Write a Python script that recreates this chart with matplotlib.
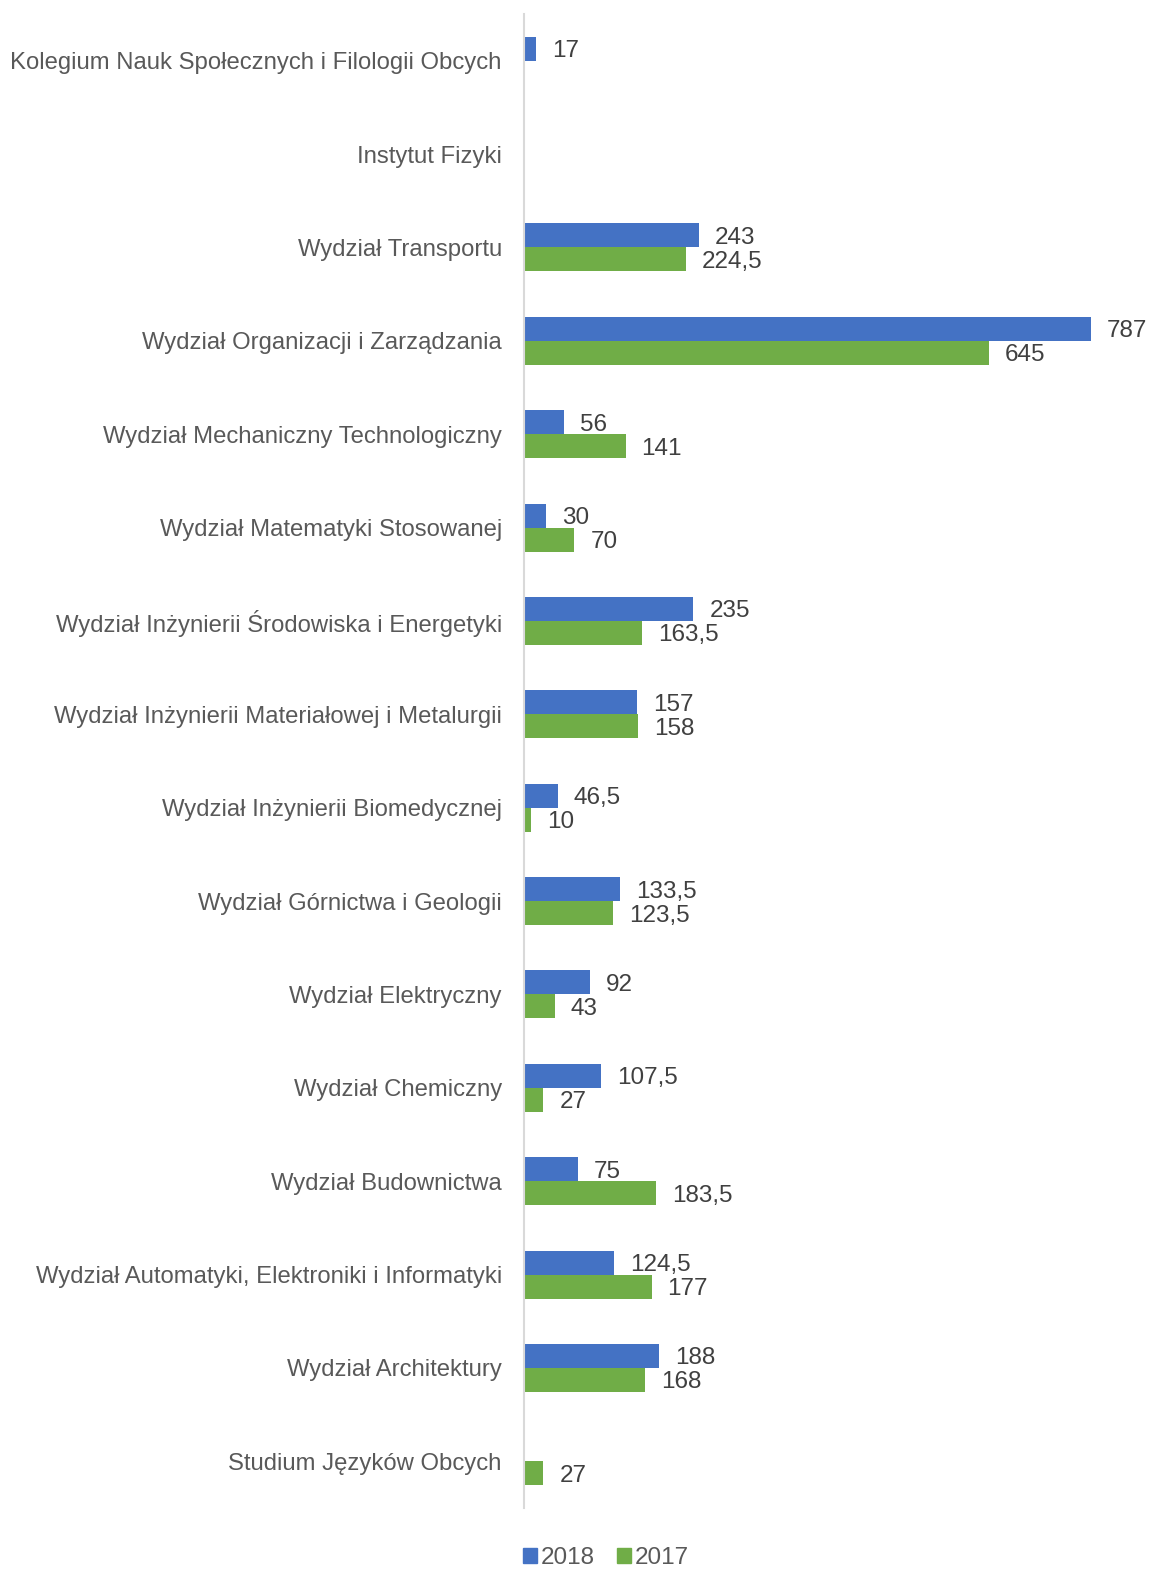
import matplotlib.pyplot as plt
import numpy as np

# Dane z wykresu (od góry do dołu)
kategorie = [
    "Kolegium Nauk Społecznych i Filologii Obcych",
    "Instytut Fizyki",
    "Wydział Transportu",
    "Wydział Organizacji i Zarządzania",
    "Wydział Mechaniczny Technologiczny",
    "Wydział Matematyki Stosowanej",
    "Wydział Inżynierii Środowiska i Energetyki",
    "Wydział Inżynierii Materiałowej i Metalurgii",
    "Wydział Inżynierii Biomedycznej",
    "Wydział Górnictwa i Geologii",
    "Wydział Elektryczny",
    "Wydział Chemiczny",
    "Wydział Budownictwa",
    "Wydział Automatyki, Elektroniki i Informatyki",
    "Wydział Architektury",
    "Studium Języków Obcych",
]
wartosci_2018 = [17, None, 243, 787, 56, 30, 235, 157, 46.5, 133.5, 92, 107.5, 75, 124.5, 188, None]
wartosci_2017 = [None, None, 224.5, 645, 141, 70, 163.5, 158, 10, 123.5, 43, 27, 183.5, 177, 168, 27]
serie = ["2018", "2017"]
kolory = ["#4472C4", "#70AD47"]

plt.rcParams['font.family'] = ['Liberation Sans', 'DejaVu Sans']

fig = plt.figure(figsize=(11.51, 15.69), dpi=100)
W, H = 1151, 1569
ax = fig.add_axes([524 / W, (H - 1508) / H, 616 / W, 1494 / H])

y = np.arange(len(kategorie))
h = 0.257


def fmt(v):
    s = f"{v:g}"
    return s.replace(".", ",")


for vals, off, kolor in [(wartosci_2018, -h / 2, kolory[0]), (wartosci_2017, h / 2, kolory[1])]:
    for i, v in enumerate(vals):
        if v is None:
            continue
        ax.barh(y[i] + off, v, height=h, color=kolor)
        ax.annotate(fmt(v), (v, y[i] + off), xytext=(16, 0), textcoords="offset pixels",
                    ha="left", va="center_baseline", fontsize=17.5, color="#404040")

ax.set_ylim(len(kategorie) - 0.5, -0.5)
ax.set_xlim(0, 616 / 0.7205)
ax.set_yticks(y)
ax.set_yticklabels(kategorie, fontsize=17.2, color="#595959")
ax.tick_params(axis="y", length=0, pad=16)
ax.set_xticks([])
for s in ["top", "right", "bottom"]:
    ax.spines[s].set_visible(False)
ax.spines["left"].set_color("#D9D9D9")
ax.spines["left"].set_linewidth(1.5)

uchwyty = [plt.Rectangle((0, 0), 1, 1, color=c) for c in kolory]
leg = fig.legend(uchwyty, serie, loc="center", bbox_to_anchor=(606 / W, 1 - 1558 / H),
                 ncol=2, frameon=False, fontsize=17.5, handlelength=0.6, handleheight=0.6,
                 handletextpad=0.15, columnspacing=0.9, borderaxespad=0)
for t in leg.get_texts():
    t.set_color("#595959")

fig.savefig("out.png", dpi=100)
